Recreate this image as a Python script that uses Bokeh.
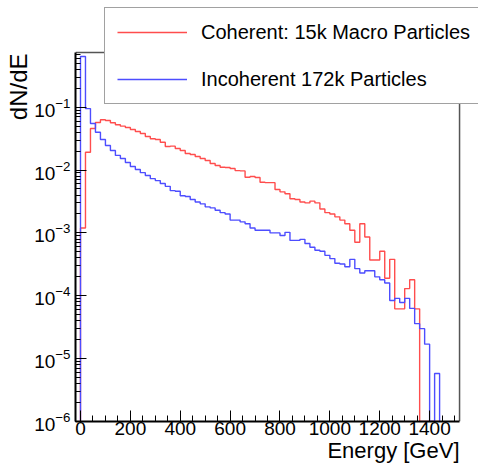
from bokeh.plotting import figure
from bokeh.models import (Range1d, Legend, LegendItem, Title,
                          SingleIntervalTicker, LogTicker)
from bokeh.embed import file_html
from bokeh.resources import INLINE

# ---- data (dN/dE per 20 GeV energy bin) ----
BIN_WIDTH = 20  # GeV
coherent = [1.2e-3, 0.0192, 0.0458, 0.0571, 0.0631, 0.0614, 0.0565, 0.0525, 0.0499, 0.0475,
            0.0442, 0.0411, 0.0382, 0.0342, 0.0314, 0.0306, 0.0277, 0.0237, 0.0240, 0.0220,
            0.0205, 0.0183, 0.0177, 0.0164, 0.0153, 0.0142, 0.0127, 0.0118, 0.0111, 0.0110,
            0.0106, 0.0098, 0.0097, 0.0077, 0.0079, 0.0076, 0.0064, 0.0063, 0.0063, 0.0049,
            0.0045, 0.0042, 0.0035, 0.0034, 0.0031, 0.0030, 0.0032, 0.0030, 0.0024, 0.0021,
            0.0020, 0.0018, 0.0016, 0.0014, 0.0011, 0.00071, 0.0014, 0.00086, 0.00037, 0.00037,
            0.00051, 0.00019, 0.00038, 6.2e-5, 6.2e-5, 1.3e-4, 1.8e-4, 6.2e-5, 0, 0,
            0, 0]
incoherent = [0.64, 0.095, 0.055, 0.040, 0.0306, 0.0246, 0.0205, 0.0171, 0.0153, 0.0132,
              0.0114, 0.0102, 0.0091, 0.0082, 0.0073, 0.0068, 0.0061, 0.0055, 0.0047, 0.0046,
              0.0039, 0.0038, 0.0034, 0.0031, 0.0029, 0.0026, 0.0025, 0.0023, 0.0021, 0.0020,
              0.0016, 0.0016, 0.0015, 0.0014, 0.0012, 0.0011, 0.0011, 0.0011, 0.0010, 0.0010,
              0.00091, 0.00102, 0.00076, 0.00076, 0.00079, 0.00068, 0.00059, 0.00053, 0.00051, 0.00044,
              0.00039, 0.00033, 0.00032, 0.00029, 0.00038, 0.00027, 0.00023, 0.00025, 0.00025, 0.00020,
              0.00018, 0.00016, 8.4e-5, 9.1e-5, 7.8e-5, 9.1e-5, 6.3e-5, 3.6e-5, 3.0e-5, 1.7e-5,
              0, 5.8e-6]
labels = ["Coherent: 15k Macro Particles", "Incoherent 172k Particles"]
colors = ["#ff4d4d", "#4d4dff"]

# visible axes frame
X_MIN, X_RIGHT = -20, 1520
Y_MIN, Y_TOP = 1e-6, 0.74
# plotting area extends to the top / right page edges (legend lives there)
X_END = 1596
Y_END = 4.98
FONT = "Liberation Sans"


def outline(values, floor):
    xs, ys = [0], [floor]
    for i, v in enumerate(values):
        yv = v if v > 0 else floor
        xs += [i * BIN_WIDTH, (i + 1) * BIN_WIDTH]
        ys += [yv, yv]
    xs.append(len(values) * BIN_WIDTH)
    ys.append(floor)
    return xs, ys


p = figure(width=478, height=467, x_range=Range1d(X_MIN, X_END),
           y_range=Range1d(Y_MIN, Y_END), y_axis_type="log",
           output_backend="svg", toolbar_location=None,
           min_border_left=75, min_border_right=0,
           min_border_top=0, min_border_bottom=46)
p.background_fill_color = "white"
p.border_fill_color = "white"
p.outline_line_color = None
p.xgrid.visible = False
p.ygrid.visible = False

# frame top and right edges
p.segment(x0=[X_MIN, X_RIGHT], y0=[Y_TOP, Y_MIN], x1=[X_RIGHT, X_RIGHT], y1=[Y_TOP, Y_TOP],
          line_color="#555555", line_width=1.5)

renderers = []
for vals, col in zip([coherent, incoherent], colors):
    xs, ys = outline(vals, Y_MIN)
    r = p.line(xs, ys, line_color=col, line_width=1.4)
    renderers.append(r)

# bottom axis
xa = p.xaxis[0]
xa.ticker = SingleIntervalTicker(interval=200, num_minor_ticks=4)
xa.bounds = (X_MIN, X_RIGHT)
xa.axis_line_color = "black"
xa.axis_line_width = 2
xa.major_tick_in = 11
xa.major_tick_out = 0
xa.minor_tick_in = 6
xa.minor_tick_out = 0
xa.major_tick_line_color = "black"
xa.minor_tick_line_color = "black"
xa.major_label_text_font = FONT
xa.major_label_text_font_size = "19px"
xa.major_label_text_color = "black"
xa.major_label_standoff = 0

# left axis
ya = p.yaxis[0]
ya.ticker = LogTicker(num_minor_ticks=10)
ya.bounds = (Y_MIN, Y_TOP)
ya.axis_line_color = "black"
ya.axis_line_width = 2
ya.major_tick_in = 11
ya.major_tick_out = 0
ya.minor_tick_in = 5
ya.minor_tick_out = 0
ya.major_tick_line_color = "black"
ya.minor_tick_line_color = "black"
ya.major_label_text_font = FONT
ya.major_label_text_font_size = "19px"
ya.major_label_text_color = "black"
ya.major_label_standoff = 5

legend = Legend(items=[LegendItem(label=labels[0], renderers=[renderers[0]]),
                       LegendItem(label=labels[1], renderers=[renderers[1]])],
                location=(29, 317), orientation="vertical", padding=12, spacing=23,
                glyph_width=70, glyph_height=24, label_height=24, label_standoff=14,
                label_text_font=FONT, label_text_font_size="20px",
                label_text_color="black", border_line_color="#444444",
                border_line_width=1.5, background_fill_color="white",
                background_fill_alpha=1.0, margin=0)
p.add_layout(legend, "center")

p.add_layout(Title(text="Energy [GeV]", align="right", offset=19, standoff=0,
                   text_font=FONT, text_font_size="22px", text_font_style="normal",
                   text_color="black", vertical_align="top"), "below")
p.add_layout(Title(text="dN/dE", align="right", offset=53, standoff=0,
                   text_font=FONT, text_font_size="24px", text_font_style="normal",
                   text_color="black"), "left")

open("out.html", "w").write(file_html(p, INLINE))
